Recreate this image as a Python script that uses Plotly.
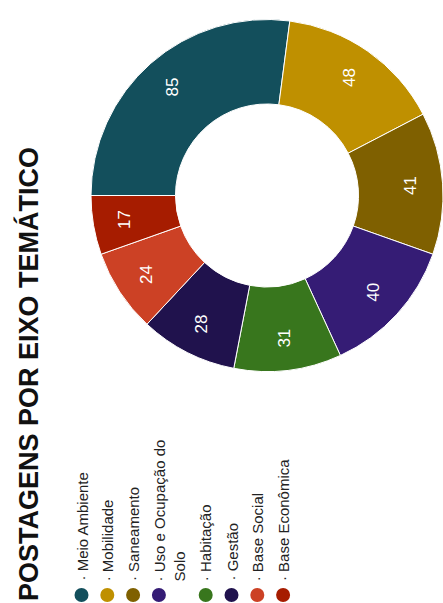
import math
import plotly.graph_objects as go

# ---- data ----
title_text = "POSTAGENS POR EIXO TEMÁTICO"
categories = ["Meio Ambiente", "Mobilidade", "Saneamento", "Uso e Ocupação do Solo",
              "Habitação", "Gestão", "Base Social", "Base Econômica"]
legend_labels = ["Meio Ambiente", "Mobilidade", "Saneamento", "Uso e Ocupação do<br>Solo",
                 "Habitação", "Gestão", "Base Social", "Base Econômica"]
values = [85, 48, 41, 40, 31, 28, 24, 17]
colors = ["#134f5c", "#bf9000", "#7f6000", "#351c75",
          "#38761d", "#20124d", "#cc4125", "#a61c00"]

W, H = 443, 603
FONT = "Arial, 'Liberation Sans', sans-serif"

# pie placement (pixels)
cx, cy, R = 267.0, 195.5, 176.0
hole = 0.52
dom_x = [(cx - R) / W, 1.0]
dom_y = [(H - (cy + R)) / H, (H - (cy - R)) / H]
start_deg = -90  # first slice starts at 9 o'clock, clockwise

fig = go.Figure()
fig.add_trace(go.Pie(
    labels=categories, values=values, sort=False, direction="clockwise",
    rotation=start_deg, hole=hole,
    marker=dict(colors=colors, line=dict(color="white", width=1)),
    textinfo="none", hoverinfo="label+value", showlegend=False,
    domain=dict(x=dom_x, y=dom_y),
))

annotations = []
shapes = []

# rotated slice labels, placed from the data's cumulative angles
total = sum(values)
r_lab = R * hole + 0.62 * (R - R * hole)
cum = 0
for v in values:
    mid = math.radians(start_deg + (cum + v / 2) / total * 360)
    px = cx + r_lab * math.sin(mid)
    py = cy - r_lab * math.cos(mid)
    annotations.append(dict(
        x=px / W, y=(H - py) / H, xref="paper", yref="paper",
        text=str(v), showarrow=False, textangle=-90,
        font=dict(family=FONT, size=17, color="white"),
        xanchor="center", yanchor="middle"))
    cum += v

# title (rotated)
annotations.append(dict(
    x=28 / W, y=0, xref="paper", yref="paper", text="<b>" + title_text + "</b>",
    showarrow=False, textangle=-90, xanchor="center", yanchor="bottom",
    font=dict(family=FONT, size=27, color="#111111")))

# rotated legend
lx = 81.5
step, line_step = 25.8, 21.0
circ_y, circ_r = 595.0, 7.0
for lab, col in zip(legend_labels, colors):
    nlines = lab.count("<br>") + 1
    text_x = lx + (nlines - 1) * line_step / 2
    shapes.append(dict(type="circle", xref="paper", yref="paper",
                       x0=(lx - circ_r) / W, x1=(lx + circ_r) / W,
                       y0=(H - circ_y - circ_r) / H, y1=(H - circ_y + circ_r) / H,
                       fillcolor=col, line=dict(width=0)))
    annotations.append(dict(
        x=text_x / W, y=(H - 583) / H, xref="paper", yref="paper",
        text="· " + lab, showarrow=False, textangle=-90, align="left",
        xanchor="center", yanchor="bottom",
        font=dict(family=FONT, size=15, color="#222222")))
    lx += step + (nlines - 1) * line_step

fig.update_layout(
    width=W, height=H, margin=dict(l=0, r=0, t=0, b=0),
    paper_bgcolor="white", plot_bgcolor="white",
    annotations=annotations, shapes=shapes,
)

fig.write_html("out.html")
